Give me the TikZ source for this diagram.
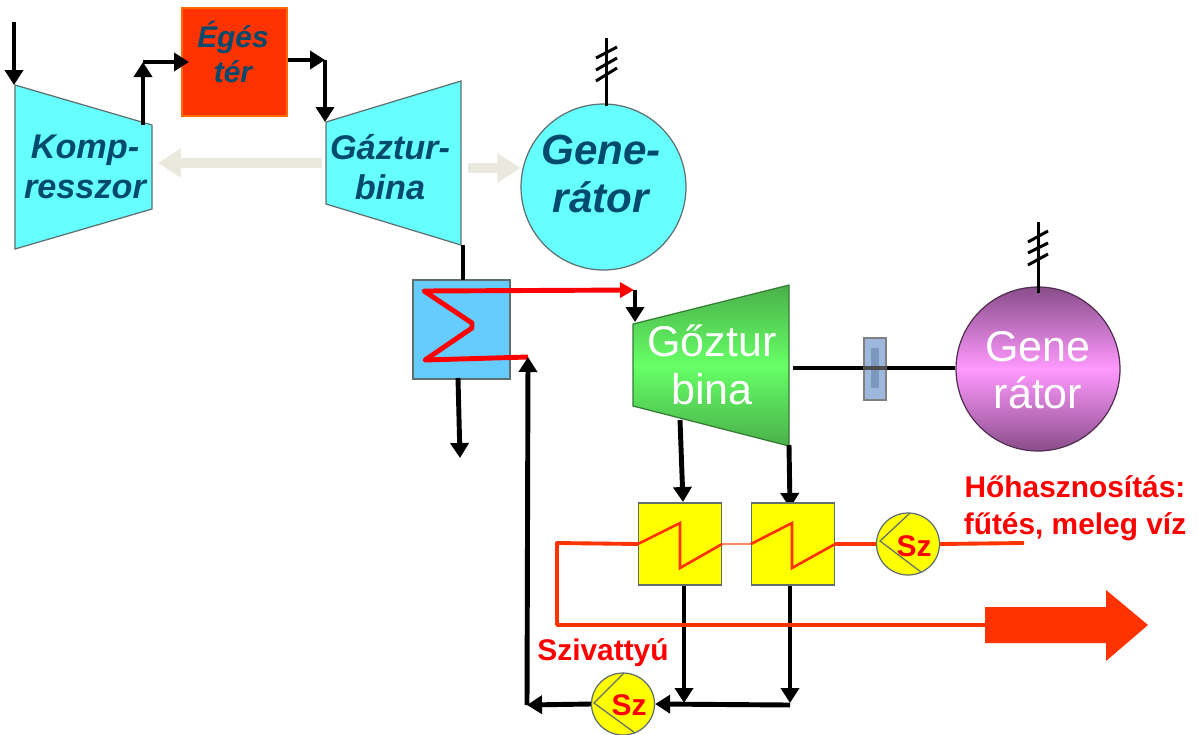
\documentclass[tikz,border=0pt]{standalone}
\usepackage{fontspec}
\setmainfont{Liberation Sans}
\usetikzlibrary{arrows.meta,shapes.geometric}
\definecolor{gepkek}{HTML}{66FFFF}
\definecolor{felirat}{HTML}{004A6E}
\definecolor{lang}{HTML}{FF3300}
\definecolor{bezs}{HTML}{EBE9DD}
\definecolor{kazankek}{HTML}{66CCFF}
\definecolor{keret}{HTML}{5F6F6F}
\definecolor{sarga}{HTML}{FFFF00}
\definecolor{zold}{HTML}{66FF66}
\definecolor{zoldsz}{HTML}{4AB04A}
\definecolor{lila}{HTML}{FF99FF}
\definecolor{lilasz}{HTML}{8A4D8A}
\definecolor{kapocs}{HTML}{9DB8DC}
\definecolor{kapocsbel}{HTML}{7B98BD}
\tikzset{
	vonal/.style={line width=2.8pt,black},
	nyil/.style={vonal,-{Triangle[length=0.3cm,width=0.36cm]}},
	hajto/.style={line width=6pt,bezs,-{Triangle[length=0.46cm,width=0.56cm]}},
	gep/.style={draw=keret,line width=0.7pt,fill=gepkek},
	doboz/.style={draw=keret,line width=0.7pt,rectangle,inner sep=0pt},
	szoveg/.style={align=center,inner sep=0pt,text=felirat},
	feher/.style={align=center,inner sep=0pt,text=white,font=\fontsize{24.5}{27}\selectfont},
	voros/.style={align=center,inner sep=0pt,text=red,font=\fontsize{17}{21}\selectfont\bfseries},
	szelet/.style={line width=2.2pt,lang},
	szivattyu/.style={draw=keret,line width=0.7pt,ellipse,fill=sarga,inner sep=0pt,minimum width=1.26cm,minimum height=1.24cm},
	fazis/.style={line width=1.7pt,black}
}
\begin{document}
\begin{tikzpicture}[x=0.02cm,y=-0.02cm]
	\useasboundingbox (0,0) rectangle (1199,734);
	% gázturbina ág
	\draw [gep] (15,85) coordinate (kbe) -- (152,125) coordinate (kki) -- (152,209) -- (15,249) -- cycle;
	\node [szoveg,font=\fontsize{19.5}{23}\selectfont\bfseries\itshape] (komp) at (85,167) {Komp-\\resszor};
	\node [doboz,draw=orange!70!lang,fill=lang,minimum width=2.1cm,minimum height=2.16cm] (egester) at (234.5,62) {};
	\node [szoveg,font=\fontsize{17}{20}\selectfont\bfseries\itshape] (egestext) at (233,52) {Égés\\tér};
	\draw [gep] (326,122) coordinate (gbe) -- (461,81) -- (461,245) coordinate (gki) -- (326,204) -- cycle;
	\node [szoveg,font=\fontsize{19.5}{23}\selectfont\bfseries\itshape] (gazturb) at (390,167) {Gáztur-\\bina};
	\node [gep,ellipse,inner sep=0pt,minimum width=3.3cm,minimum height=3.32cm] (gen1) at (603.5,187) {};
	\node [szoveg,font=\fontsize{24}{27}\selectfont\bfseries\itshape] (gen1text) at (601,174) {Gene-\\rátor};
	\coordinate (be) at (14,22);
	\coordinate (ksarok) at (143,62);
	\coordinate (gsarok) at (325,60);
	\coordinate (egesbe) at (189,62);
	\draw [nyil] (be) -- (be |- kbe);
	\draw [nyil] (kki -| ksarok) -- (ksarok);
	\draw [nyil] (ksarok) -- (egesbe);
	\draw [nyil] (egester.east |- gsarok) -- (gsarok);
	\draw [nyil] (gsarok) -- (gsarok |- gbe);
	\coordinate (hajt1) at (322,163);
	\coordinate (hajt2) at (158,163);
	\coordinate (hajt3) at (468,168);
	\draw [hajto] (hajt1) -- (hajt2);
	\draw [hajto] (hajt3) -- (gen1.west |- hajt3);
	% kazán
	\node [doboz,fill=kazankek,minimum width=1.94cm,minimum height=1.98cm] (kazan) at (461.5,329.5) {};
	\coordinate (fust) at (460,458);
	\draw [vonal] (463,245) -- (463,280);
	\draw [nyil] (458,378) -- (fust);
	\coordinate (z1) at (424,291);
	\coordinate (z2) at (472,323);
	\coordinate (z3) at (472,328);
	\coordinate (z4) at (425,360);
	\coordinate (vissza) at (528,357);
	\coordinate (goz) at (634,290);
	\draw [line width=2.8pt,red,line join=round,-{Triangle[length=0.28cm,width=0.3cm]}] (vissza) -- (z4) -- (z3) -- (z2) -- (z1) -- (goz);
	% gőzturbina ág
	\shadedraw [draw=zoldsz!70!black,line width=0.7pt,top color=zoldsz,bottom color=zoldsz,middle color=zold] (633,324) coordinate (gozbe) -- (789,285) -- (789,446) coordinate (gozki) -- (633,406) -- cycle;
	\node [feher] (gozturb) at (712,365) {Gőztur\\bina};
	\node [doboz,draw=lilasz!60!black,circle,top color=lilasz,bottom color=lilasz,middle color=lila,minimum size=3.28cm] (gen2) at (1038,369) {};
	\node [feher] (gen2text) at (1038,370) {Gene\\rátor};
	\coordinate (tengely) at (793,368);
	\draw [line width=1.8pt] (tengely) -- (gen2.west |- tengely);
	\node [doboz,draw=gray,fill=kapocs,minimum width=0.44cm,minimum height=1.24cm] (kapcs) at (875,369) {};
	\node [inner sep=0pt,fill=kapocsbel,minimum width=0.16cm,minimum height=0.8cm] (kapcsbel) at (875,368) {};
	\draw [line width=1.8pt,black!70] (kapcs.west |- tengely) -- (kapcs.east |- tengely);
	\draw [nyil] (635,290) -- (635,322);
	\draw [nyil] (680,420) -- (683,502);
	\draw [nyil] (789,445) -- (790,508);
	% hőcserélők
	\node [doboz,fill=sarga,minimum width=1.66cm,minimum height=1.64cm] (hocs1) at (680,544) {};
	\node [doboz,fill=sarga,minimum width=1.66cm,minimum height=1.64cm] (hocs2) at (793,544) {};
	\node [szivattyu] (sz1) at (908,544) {};
	\node [szivattyu] (sz2) at (623,704) {};
	\coordinate (alul1) at (684,703);
	\coordinate (alul2) at (790,703);
	\coordinate (alul3) at (790,705);
	\coordinate (balsarok) at (527,705);
	\draw [nyil] (hocs1.south -| alul1) -- (alul1);
	\draw [nyil] (hocs2.south -| alul2) -- (alul2);
	\draw [nyil] (alul3) -- (sz2.east);
	\draw [nyil] (sz2.west) -- (balsarok);
	\draw [nyil] (balsarok) -- (vissza);
	% fűtővíz
	\coordinate (fki) at (1024,543);
	\coordinate (fsarok1) at (557,543);
	\coordinate (fsarok2) at (557,625);
	\coordinate (nagynyil) at (985,625);
	\draw [szelet,line join=round] (hocs1.west) -- (fsarok1) -- (fsarok2) -- (nagynyil);
	\draw [lang!60,line width=1.4pt] (hocs1.east) -- (hocs2.west);
	\draw [szelet] (hocs2.east) -- (sz1.west);
	\draw [szelet] (sz1.east) -- (fki);
	\fill [lang] (nagynyil) -- (985,607) -- (1106,607) -- (1106,590) -- (1148,625) -- (1106,661) -- (1106,643) -- (985,643) -- cycle;
	\draw [lang,line width=1.5pt] (hocs1.west) -- (680,523) -- (680,568) -- (hocs1.east);
	\draw [lang,line width=1.5pt] (hocs2.west) -- (792,523) -- (792,568) -- (hocs2.east);
	% szivattyúk
	\draw [keret,line width=0.7pt] (910,513) -- (880,541) -- (921,572);
	\draw [keret,line width=0.7pt] (624,673) -- (594,703) -- (635,733);
	\node [voros,font=\fontsize{17}{18}\selectfont\bfseries] (sz1text) at (914,546) {Sz};
	\node [voros,font=\fontsize{17}{18}\selectfont\bfseries] (sz2text) at (629,705) {Sz};
	\node [voros] (szivtext) at (603,653) {Szivattyú};
	\node [voros] (hotext) at (1075,508) {Hőhasznosítás:\\fűtés, meleg víz};
	% fázisvezetők
	\coordinate (f1a) at (606,38);
	\draw [fazis] (gen1.north -| f1a) ++(0,3) -- (f1a);
	\draw [fazis] (596,58) -- (617,47);
	\draw [fazis] (596,70) -- (617,58);
	\draw [fazis] (596,81) -- (617,68);
	\coordinate (f2a) at (1038,222);
	\draw [fazis] (gen2.north -| f2a) ++(0,7) -- (f2a);
	\draw [fazis] (1028,242) -- (1048,231);
	\draw [fazis] (1028,253) -- (1048,243);
	\draw [fazis] (1028,265) -- (1048,254);
\end{tikzpicture}
\end{document}
